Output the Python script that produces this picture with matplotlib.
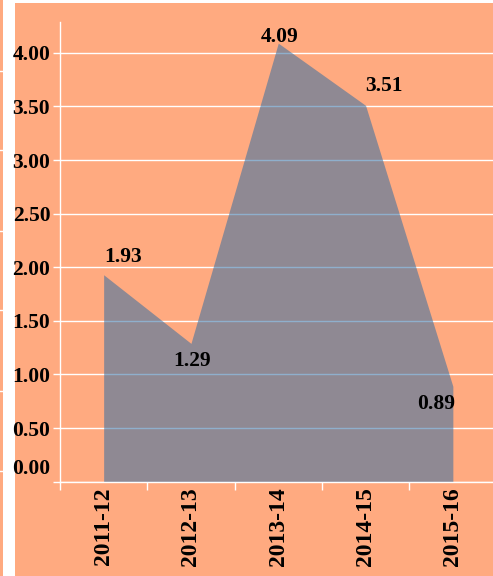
import matplotlib
matplotlib.use("Agg")
import matplotlib.pyplot as plt
from matplotlib.patches import Rectangle
from matplotlib.lines import Line2D
from matplotlib.transforms import ScaledTranslation

categories = ["2011-12", "2012-13", "2013-14", "2014-15", "2015-16"]
values = [1.93, 1.29, 4.09, 3.51, 0.89]
yticks = [0.0, 0.5, 1.0, 1.5, 2.0, 2.5, 3.0, 3.5, 4.0]
ytick_labels = ["0.00", "0.50", "1.00", "1.50", "2.00", "2.50", "3.00", "3.50", "4.00"]
# label offsets in pixels (dx, dy) relative to each point
label_offsets = [(19, 18), (1, -18), (1, 6), (18, 19), (-17, -18)]

ORANGE = "#FFAA80"
FILL = (0.20, 0.43, 0.64)
W, H = 493, 576
DPI = 100

plt.rcParams["font.family"] = ["Liberation Serif", "DejaVu Serif"]
plt.rcParams["font.weight"] = "bold"

fig = plt.figure(figsize=(W / DPI, H / DPI), dpi=DPI)
fig.patch.set_facecolor(ORANGE)

# white strips on left / top edges
fig.add_artist(Rectangle((3 / W, 0), 12 / W, 1, transform=fig.transFigure,
                         facecolor="white", edgecolor="none", zorder=0))
fig.add_artist(Rectangle((3 / W, 1 - 3 / H), 1, 3 / H, transform=fig.transFigure,
                         facecolor="white", edgecolor="none", zorder=0))
for yy in [70.6, 150, 231, 310, 391, 471]:
    fig.add_artist(Line2D([0, 3 / W], [1 - yy / H, 1 - yy / H], transform=fig.transFigure,
                          color="white", lw=1))

left = 60 / W
bottom = (H - 481.7) / H
width = 436.5 / W
height = 460 / H
ax = fig.add_axes([left, bottom, width, height])
ax.set_facecolor("none")

x = list(range(len(categories)))
ax.fill_between(x, [0] * len(values), values, color=FILL, alpha=0.55, linewidth=0, zorder=2)

ax.set_xlim(-0.5, len(categories) - 0.5)
ax.set_ylim(0, 4.29)

ax.set_yticks(yticks)
ax.set_yticklabels(ytick_labels, fontsize=15.5, fontweight="bold")
ax.yaxis.grid(True, color="white", linewidth=1, zorder=1)
ax.set_axisbelow(True)

# x ticks at band boundaries, labels at centres
ax.set_xticks([i - 0.5 for i in range(len(categories))])
ax.set_xticklabels([])
ax.set_xticks(x, minor=True)
ax.set_xticklabels(categories, minor=True, rotation=90, fontsize=17, fontweight="bold")
ax.tick_params(axis="x", which="minor", length=0, pad=4)
ax.tick_params(axis="x", which="major", length=5.5, color="white", width=1)
ax.tick_params(axis="y", length=5, color="white", width=1, pad=2)

for s in ["top", "right"]:
    ax.spines[s].set_visible(False)
for s in ["left", "bottom"]:
    ax.spines[s].set_color("white")
    ax.spines[s].set_linewidth(1)

# shift 0.00 label up
t0 = ax.yaxis.get_major_ticks()[0]
t0.label1.set_transform(t0.label1.get_transform() + ScaledTranslation(0, 14.7 / DPI, fig.dpi_scale_trans))

for xi, v, (dx, dy) in zip(x, values, label_offsets):
    ax.annotate(f"{v:.2f}", (xi, v), xytext=(dx, dy), textcoords="offset pixels",
                ha="center", va="center", fontsize=15.5, fontweight="bold", zorder=5)

fig.savefig("out.png", dpi=DPI, facecolor=fig.get_facecolor())
